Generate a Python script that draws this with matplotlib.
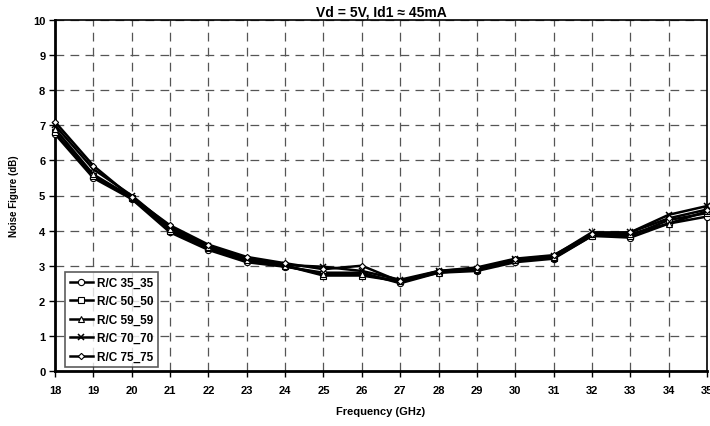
import matplotlib
matplotlib.use("Agg")
import matplotlib.pyplot as plt

freq = [18, 19, 20, 21, 22, 23, 24, 25, 26, 27, 28, 29, 30, 31, 32, 33, 34, 35]
rc_35 = [6.75, 5.5, 4.9, 3.95, 3.45, 3.1, 2.97, 2.8, 2.8, 2.5, 2.8, 2.85, 3.1, 3.2, 3.85, 3.8, 4.2, 4.4]
rc_50 = [6.8, 5.55, 4.92, 4.0, 3.5, 3.15, 3.0, 2.72, 2.72, 2.55, 2.82, 2.88, 3.15, 3.22, 3.85, 3.85, 4.3, 4.5]
rc_59 = [6.9, 5.6, 4.95, 4.05, 3.52, 3.15, 3.0, 2.75, 2.75, 2.55, 2.8, 2.9, 3.15, 3.25, 3.9, 3.9, 4.2, 4.55]
rc_70 = [7.0, 5.75, 5.0, 4.1, 3.55, 3.2, 3.02, 2.97, 2.85, 2.6, 2.85, 2.92, 3.18, 3.28, 3.95, 3.95, 4.45, 4.7]
rc_75 = [7.1, 5.85, 4.95, 4.15, 3.6, 3.25, 3.07, 2.9, 3.0, 2.55, 2.85, 2.95, 3.2, 3.3, 3.9, 3.95, 4.35, 4.6]
labels = ["R/C 35_35", "R/C 50_50", "R/C 59_59", "R/C 70_70", "R/C 75_75"]
series = [rc_35, rc_50, rc_59, rc_70, rc_75]
markers = ["o", "s", "^", "x", "D"]
msizes = [4.5, 4, 4.5, 4.5, 3.2]

plt.rcParams['font.family'] = ['Liberation Sans', 'DejaVu Sans']

fig = plt.figure(figsize=(7.1, 4.27), dpi=100)
ax = fig.add_axes([55/710, 1 - 372/427, (707-55)/710, (372-21)/427])

for y, lab, m, ms in zip(series, labels, markers, msizes):
    if m == "x":
        ax.plot(freq, y, color="black", lw=1.8, marker=m, ms=ms, mew=1.1,
                mec="black", label=lab, clip_on=False, zorder=3)
    else:
        ax.plot(freq, y, color="black", lw=1.8, marker=m, ms=ms, mfc="white",
                mec="black", mew=0.8, label=lab, clip_on=False, zorder=3)

ax.set_xlim(18, 35)
ax.set_ylim(0, 10)
ax.set_xticks(range(18, 36))
ax.set_yticks(range(0, 11))
ax.grid(True, ls=(0, (7, 5)), color="#555555", lw=0.9)
ax.set_axisbelow(True)

for lbl in ax.get_xticklabels() + ax.get_yticklabels():
    lbl.set_fontweight("bold")
    lbl.set_fontsize(8)
ax.tick_params(axis="x", direction="out", length=4, pad=6, width=1)
ax.tick_params(axis="y", direction="out", length=4, pad=3, width=1)

for s in ["left", "bottom"]:
    ax.spines[s].set_linewidth(2)
for s in ["top", "right"]:
    ax.spines[s].set_linewidth(1.2)

ax.set_xlabel("Frequency (GHz)", fontsize=8, fontweight="bold", labelpad=8)
ax.set_ylabel("Noise Figure (dB)", fontsize=7, fontweight="bold", labelpad=10)
ax.set_title("Vd = 5V, Id1 \u2248 45mA", fontsize=10, fontweight="bold", pad=3)

leg = ax.legend(loc="lower left", bbox_to_anchor=(0.015, 0.01),
                prop={"weight": "bold", "size": 8.5}, frameon=True, fancybox=False,
                edgecolor="#333333", handlelength=2.0, handletextpad=0.3,
                labelspacing=0.55, borderpad=0.4, borderaxespad=0)
leg.get_frame().set_linewidth(1.2)

fig.savefig("out.png", dpi=100)
